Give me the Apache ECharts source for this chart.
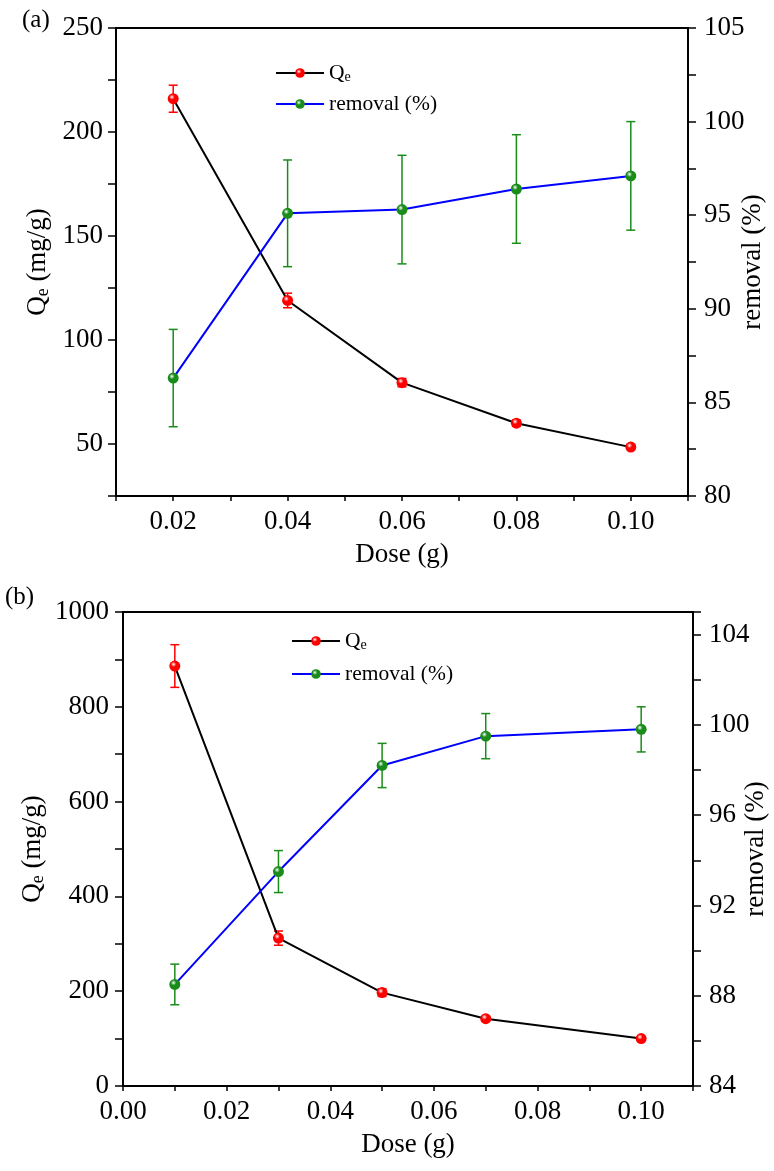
<!DOCTYPE html>
<html>
<head>
<meta charset="utf-8">
<script src="https://cdn.jsdelivr.net/npm/echarts@6/dist/echarts.min.js"></script>
<style>
  html, body { margin: 0; padding: 0; background: #fff; }
  #chart { width: 774px; height: 1171px; }
</style>
</head>
<body>
<div id="chart"></div>
<script>
// panel (a)
const doseA = [0.02, 0.04, 0.06, 0.08, 0.10];
const qeA = [216, 119, 79.5, 60, 48.5];
const qeErrA = [6.5, 3.5, 2, 1.5, 1];
const remA = [86.3, 95.1, 95.3, 96.4, 97.1];
const remErrA = [2.6, 2.85, 2.9, 2.9, 2.9];
// panel (b)
const doseB = [0.01, 0.03, 0.05, 0.07, 0.10];
const qeB = [886, 312, 197, 142, 100];
const qeErrB = [45, 15, 8, 5, 3];
const remB = [88.5, 93.5, 98.2, 99.5, 99.8];
const remErrB = [0.9, 0.93, 0.98, 1.0, 1.0];

const FONT = "Liberation Serif";
const RED = "#ff0000";
const GREEN = "#1a8c1a";

function ball(c) {
  return {
    type: "radial", x: 0.38, y: 0.35, r: 0.7,
    colorStops: [{ offset: 0, color: "#ffffff" }, { offset: 0.35, color: c }, { offset: 1, color: c }]
  };
}

function pairs(xs, ys) {
  return xs.map((x, i) => [x, ys[i]]);
}
function errs(xs, ys, es) {
  return xs.map((x, i) => [x, ys[i] - es[i], ys[i] + es[i]]);
}

function errSeries(name, xi, yi, data, color) {
  return {
    type: "custom", name: name, xAxisIndex: xi, yAxisIndex: yi, z: 1,
    encode: { x: 0, y: [1, 2] },
    data: data,
    renderItem: function (params, api) {
      const lo = api.coord([api.value(0), api.value(1)]);
      const hi = api.coord([api.value(0), api.value(2)]);
      const w = 4.5;
      const st = { stroke: color, lineWidth: 1.5 };
      return {
        type: "group",
        children: [
          { type: "line", shape: { x1: lo[0], y1: lo[1], x2: hi[0], y2: hi[1] }, style: st },
          { type: "line", shape: { x1: lo[0] - w, y1: lo[1], x2: lo[0] + w, y2: lo[1] }, style: st },
          { type: "line", shape: { x1: hi[0] - w, y1: hi[1], x2: hi[0] + w, y2: hi[1] }, style: st }
        ]
      };
    }
  };
}

function lineSeries(name, xi, yi, data, lineColor, dotColor) {
  return {
    type: "line", name: name, xAxisIndex: xi, yAxisIndex: yi, z: 3,
    data: data, symbol: "circle", symbolSize: 11,
    lineStyle: { color: lineColor, width: 2 },
    itemStyle: { color: ball(dotColor) }
  };
}

const tickLab = { fontFamily: FONT, fontSize: 27, color: "#000" };

function xAx(grid, min) {
  return {
    type: "value", gridIndex: grid, min: min, max: 0.11, interval: 0.01,
    name: "Dose (g)", nameLocation: "middle", nameGap: 45, nameMoveOverlap: false,
    nameTextStyle: { fontFamily: FONT, fontSize: 27, color: "#000" },
    axisLine: { show: true, lineStyle: { color: "#000", width: 2 } },
    axisTick: { show: true, inside: false, length: 5, lineStyle: { color: "#000", width: 1.5 } },
    splitLine: { show: false },
    axisLabel: Object.assign({}, tickLab, {
      margin: 12,
      formatter: function (v) {
        const k = Math.round(v * 100);
        return (k % 2 === 0 && k <= 10) ? (k / 100).toFixed(2) : "";
      }
    })
  };
}

function yAx(grid, pos, min, max, step, labStep, name, gap, margin, rich) {
  return {
    type: "value", gridIndex: grid, position: pos, min: min, max: max, interval: step,
    name: name, nameLocation: "middle", nameGap: gap, nameRotate: 90, nameMoveOverlap: false,
    nameTextStyle: { fontFamily: FONT, fontSize: 27, color: "#000", rich: rich },
    axisLine: { show: true, onZero: false, lineStyle: { color: "#000", width: 2 } },
    axisTick: { show: true, inside: false, length: 8, lineStyle: { color: "#000", width: 1.5 } },
    splitLine: { show: false },
    axisLabel: Object.assign({}, tickLab, {
      margin: margin,
      formatter: function (v) {
        const r = Math.round(v * 10) / 10;
        return (Math.abs(r / labStep - Math.round(r / labStep)) < 1e-6) ? String(r) : "";
      }
    })
  };
}

const qeRich = {
  q: { fontFamily: FONT, fontSize: 27, color: "#000" },
  s: { fontFamily: FONT, fontSize: 18, color: "#000", padding: [10, 0, 0, 0] }
};

const legendRich = {
  q: { fontFamily: FONT, fontSize: 21.5, color: "#000" },
  s: { fontFamily: FONT, fontSize: 14, color: "#000", padding: [8, 0, 0, 0] }
};

function legendAt(left, top, gap) {
  return {
    left: left, top: top, orient: "vertical", itemGap: gap,
    itemWidth: 48, itemHeight: 12,
    data: ["Qe", "removal (%)"],
    textStyle: { fontFamily: FONT, fontSize: 21.5, color: "#000", rich: legendRich },
    formatter: function (n) { return n === "Qe" ? "{q|Q}{s|e}" : n; }
  };
}

const chart = echarts.init(document.getElementById("chart"));
chart.setOption({
  backgroundColor: "#fff",
  animation: false,
  grid: [
    { left: 116, top: 28, width: 572, height: 468, outerBoundsMode: "none", show: true, borderColor: "#000", borderWidth: 2, backgroundColor: "transparent" },
    { left: 123, top: 612, width: 570, height: 474, outerBoundsMode: "none", show: true, borderColor: "#000", borderWidth: 2, backgroundColor: "transparent" }
  ],
  legend: [legendAt(270, 57, 9), legendAt(286, 625, 11)],
  xAxis: [xAx(0, 0.01), xAx(1, 0)],
  yAxis: [
    yAx(0, "left", 25, 250, 25, 50, "{q|Q}{s|e}{q| (mg/g)}", 64, 13, qeRich),
    yAx(0, "right", 80, 105, 2.5, 5, "removal (%)", 51, 16, {}),
    yAx(1, "left", 0, 1000, 100, 200, "{q|Q}{s|e}{q| (mg/g)}", 76, 14, qeRich),
    yAx(1, "right", 84, 105, 2, 4, "removal (%)", 49, 16, {})
  ],
  graphic: [
    { type: "text", left: 22, top: 8, style: { text: "(a)", fontFamily: FONT, fontSize: 25, fill: "#000" } },
    { type: "text", left: 5, top: 585, style: { text: "(b)", fontFamily: FONT, fontSize: 25, fill: "#000" } }
  ],
  series: [
    errSeries("errQeA", 0, 0, errs(doseA, qeA, qeErrA), RED),
    errSeries("errRemA", 0, 1, errs(doseA, remA, remErrA), GREEN),
    lineSeries("Qe", 0, 0, pairs(doseA, qeA), "#000", RED),
    lineSeries("removal (%)", 0, 1, pairs(doseA, remA), "#0000ff", GREEN),
    errSeries("errQeB", 1, 2, errs(doseB, qeB, qeErrB), RED),
    errSeries("errRemB", 1, 3, errs(doseB, remB, remErrB), GREEN),
    lineSeries("Qe", 1, 2, pairs(doseB, qeB), "#000", RED),
    lineSeries("removal (%)", 1, 3, pairs(doseB, remB), "#0000ff", GREEN)
  ]
});
</script>
</body>
</html>
